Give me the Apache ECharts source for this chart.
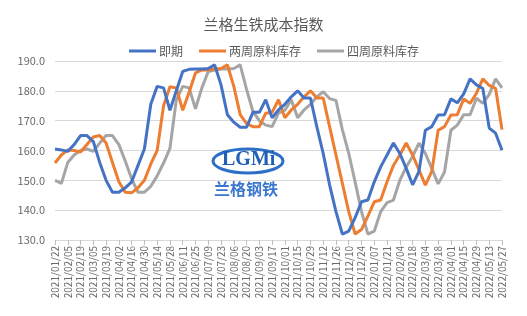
<!DOCTYPE html>
<html>
<head>
<meta charset="utf-8">
<script src="https://cdn.jsdelivr.net/npm/echarts@6/dist/echarts.min.js"></script>
<style>
  html, body { margin: 0; padding: 0; background: #fff; }
  #chart { width: 527px; height: 316px; }
</style>
</head>
<body>
<div id="chart"></div>
<script>
// weekly dates, 2021/01/22 .. 2022/05/27
var dates = [
  '2021/01/22','2021/01/29','2021/02/05','2021/02/12','2021/02/19','2021/02/26','2021/03/05','2021/03/12',
  '2021/03/19','2021/03/26','2021/04/02','2021/04/09','2021/04/16','2021/04/23','2021/04/30','2021/05/07',
  '2021/05/14','2021/05/21','2021/05/28','2021/06/04','2021/06/11','2021/06/18','2021/06/25','2021/07/02',
  '2021/07/09','2021/07/16','2021/07/23','2021/07/30','2021/08/06','2021/08/13','2021/08/20','2021/08/27',
  '2021/09/03','2021/09/10','2021/09/17','2021/09/24','2021/10/01','2021/10/08','2021/10/15','2021/10/22',
  '2021/10/29','2021/11/05','2021/11/12','2021/11/19','2021/11/26','2021/12/03','2021/12/10','2021/12/17',
  '2021/12/24','2021/12/31','2022/01/07','2022/01/14','2022/01/21','2022/01/28','2022/02/04','2022/02/11',
  '2022/02/18','2022/02/25','2022/03/04','2022/03/11','2022/03/18','2022/03/25','2022/04/01','2022/04/08',
  '2022/04/15','2022/04/22','2022/04/29','2022/05/06','2022/05/13','2022/05/20','2022/05/27'
];

var spot = [
  160.5, 160.2, 159.7, 162.0, 165.0, 165.0, 163.0, 156.0, 150.0, 146.0,
  146.0, 147.5, 149.5, 155.0, 160.5, 175.5, 181.5, 181.0, 173.5, 180.0,
  186.5, 187.2, 187.3, 187.3, 187.5, 188.7, 182.0, 172.0, 169.5, 167.8,
  167.8, 172.8, 172.8, 177.0, 171.0, 173.6, 175.5, 178.0, 180.0, 177.6,
  177.6, 168.0, 159.0, 148.5, 139.5, 132.0, 133.0, 137.5, 142.8, 143.4,
  149.5, 154.5, 158.5, 162.5, 159.0, 154.0, 148.5, 153.0, 166.8, 168.0,
  171.9, 172.0, 177.3, 176.0, 179.0, 184.0, 182.0, 180.8, 167.5, 165.8,
  160.1
];

var stock2w = [
  155.8, 158.5, 160.2, 160.0, 159.5, 162.0, 164.5, 165.0, 162.5, 156.0,
  149.5, 146.0, 145.8, 147.5, 150.0, 155.5, 160.0, 175.0, 181.4, 181.0,
  173.5, 179.5, 186.0, 187.0, 187.0, 187.3, 187.5, 188.7, 181.5, 172.0,
  169.0, 168.0, 168.0, 172.5, 172.8, 177.0, 171.0, 173.6, 175.5, 178.0,
  180.0, 177.6, 177.6, 168.0, 158.5, 149.0, 139.5, 132.0, 133.5, 138.0,
  142.8, 143.4, 149.5, 155.0, 158.5, 162.5, 158.5, 153.5, 148.4, 153.0,
  166.8, 168.0, 171.9, 172.0, 177.3, 175.8, 179.2, 184.0, 181.8, 180.8,
  167.0
];

var stock4w = [
  150.0, 149.0, 156.0, 158.5, 160.0, 160.5, 159.7, 162.5, 165.0, 165.0,
  162.0, 156.5, 150.5, 146.0, 146.0, 148.0, 151.5, 155.8, 160.7, 177.0,
  181.5, 181.0, 174.0, 181.0, 186.5, 187.0, 187.3, 187.3, 187.5, 188.7,
  180.5, 173.0, 170.0, 168.5, 168.0, 172.5, 173.5, 177.0, 171.0, 173.6,
  175.5, 178.0, 179.7, 177.4, 176.8, 167.0, 159.0, 149.5, 139.5, 132.0,
  133.0, 139.5, 142.5, 143.4, 150.0, 154.5, 158.0, 162.5, 159.0, 154.0,
  148.8, 152.8, 166.8, 168.5, 172.0, 172.0, 177.5, 175.8, 178.8, 184.0,
  181.0
];

var seriesNames = ['即期', '两周原料库存', '四周原料库存'];
var seriesColors = ['#4472C4', '#ED7D31', '#A5A5A5'];
var seriesData = [spot, stock2w, stock4w];

var txt = '#595959';
var chart = echarts.init(document.getElementById('chart'));

chart.setOption({
  animation: false,
  textStyle: { fontFamily: '"Noto Sans CJK SC", "Liberation Sans", sans-serif' },
  title: {
    text: '兰格生铁成本指数', left: 'center', top: 12,
    textStyle: { fontSize: 15, fontWeight: 'normal', color: txt }
  },
  legend: {
    top: 40, left: 124, itemWidth: 27, itemHeight: 3, itemGap: 16,
    icon: 'rect',
    textStyle: { fontSize: 12, color: txt, padding: [0, 0, 0, -2] }
  },
  grid: { left: 55, right: 25, top: 61, bottom: 76 },
  xAxis: {
    type: 'category', data: dates, boundaryGap: false,
    axisLine: { lineStyle: { color: '#d9d9d9' } },
    axisTick: { show: true, interval: 1, lineStyle: { color: '#bfbfbf' } },
    axisLabel: { interval: 1, rotate: 90, fontSize: 10, color: '#6a6a6a', margin: 6 }
  },
  yAxis: {
    type: 'value', min: 130, max: 190, interval: 10,
    axisLine: { show: false }, axisTick: { show: false },
    axisLabel: { fontSize: 11, color: '#6a6a6a', margin: 10, formatter: function(v) { return v.toFixed(1); } },
    splitLine: { lineStyle: { color: '#d9d9d9' } }
  },
  graphic: [
    { type: 'ellipse', shape: { cx: 248, cy: 161, rx: 35, ry: 12 }, style: { fill: 'none', stroke: '#2e6fc8', lineWidth: 3 }, z: 1 },
    { type: 'text', left: 222, top: 150, style: { text: 'LGMi', fontSize: 20, fontWeight: 'bold', fill: '#1f5fb8', fontFamily: 'Liberation Serif' }, z: 1 },
    { type: 'text', left: 214, top: 181, style: { text: '兰格钢铁', fontSize: 16, fontWeight: 'bold', fill: '#3a78d0', fontFamily: '"Noto Sans CJK SC"' }, z: 1 }
  ],
  series: seriesNames.map(function(name, i) {
    return {
      name: name, type: 'line', data: seriesData[i],
      showSymbol: false, symbol: 'none', z: 3 + (2 - i),
      lineStyle: { width: 3, color: seriesColors[i] },
      itemStyle: { color: seriesColors[i] }
    };
  })
});
</script>
</body>
</html>
